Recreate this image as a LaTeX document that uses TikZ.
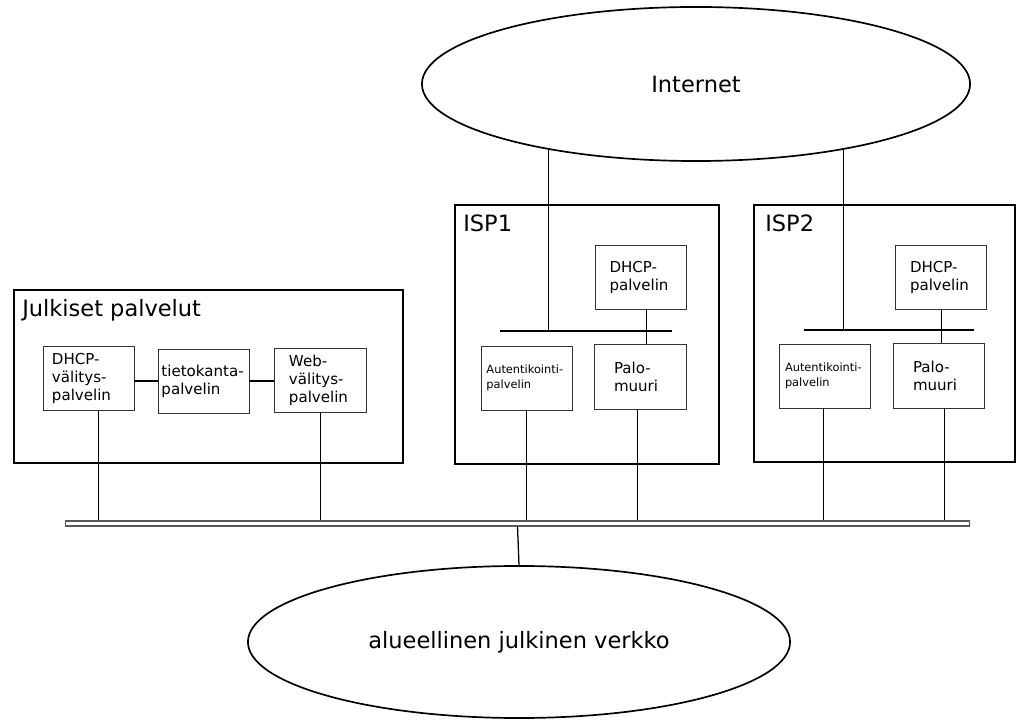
\documentclass[tikz,border=0pt]{standalone}
\usepackage{fontspec}
\setmainfont{DejaVu Sans}
\usetikzlibrary{shapes.geometric}

\begin{document}
\begin{tikzpicture}[x=0.025cm, y=-0.025cm,
		group/.style={draw, line width=2pt},
		title/.style={anchor=north west, inner sep=0pt, font=\fontsize{16pt}{19pt}\selectfont},
		srv/.style={draw=black!80, line width=0.6pt, align=left, minimum width=2.275cm, minimum height=1.6cm, inner sep=0pt, font=\fontsize{10.7pt}{12.8pt}\selectfont},
		small/.style={font=\fontsize{8.1pt}{10.4pt}\selectfont},
		cloud/.style={draw, ellipse, line width=1.2pt, inner sep=0pt, font=\fontsize{16pt}{19pt}\selectfont},
		link/.style={line width=0.6pt},
		bar/.style={line width=1.5pt}]
		\useasboundingbox (0,0) rectangle (1018,720);

		\draw (696,84) node[cloud, minimum width=13.7cm, minimum height=3.85cm] (internet) {Internet};
		\draw (519,642) node[cloud, minimum width=13.55cm, minimum height=3.8cm] (verkko) {alueellinen julkinen verkko};

		\draw (208.5,376.5) node[group, minimum width=9.725cm, minimum height=4.325cm] (julk) {};
		\draw (587,334.5) node[group, minimum width=6.6cm, minimum height=6.475cm] (isp1) {};
		\draw (884.5,333.5) node[group, minimum width=6.525cm, minimum height=6.425cm] (isp2) {};

		\draw (22,299) node[title] (jtitle) {Julkiset palvelut};
		\draw (463,215) node[title] (isp1title) {ISP1};
		\draw (765,215) node[title] (isp2title) {ISP2};

		\draw (88.5,378.5) node[srv, text width=1.825cm] (dhcpv) {DHCP-\\välitys-\\palvelin};
		\draw (203.5,381) node[srv, text width=2.1cm] (tieto) {tietokanta-\\palvelin};
		\draw (320,380) node[srv, minimum width=2.3cm, text width=1.55cm] (webv) {Web-\\välitys-\\palvelin};

		\draw (640.5,277) node[srv, text width=1.55cm] (dhcp1) {DHCP-\\palvelin};
		\draw (640,376.5) node[srv, minimum width=2.3cm, minimum height=1.625cm, text width=1.3cm] (palo1) {Palo-\\muuri};
		\draw (526.5,378) node[srv, small, text width=2cm] (auth1) {Autentikointi-\\palvelin};

		\draw (941,277) node[srv, text width=1.55cm] (dhcp2) {DHCP-\\palvelin};
		\draw (939,375.5) node[srv, minimum height=1.625cm, text width=1.3cm] (palo2) {Palo-\\muuri};
		\draw (825,376) node[srv, small, text width=2cm] (auth2) {Autentikointi-\\palvelin};

		\draw (517.5,523.5) node[draw=black!65, fill=white, line width=0.8pt, minimum width=22.575cm, minimum height=0.125cm, inner sep=0pt] (bus) {};

		\coordinate (bar1w) at (500,331);
		\coordinate (bar1e) at (672,331);
		\coordinate (bar2w) at (804,330);
		\coordinate (bar2e) at (974,330);
		\draw[bar] (bar1w) -- (bar1e);
		\draw[bar] (bar2w) -- (bar2e);

		\draw[line width=1pt] (internet.204) -- (internet.204 |- bar1w);
		\draw[line width=1pt] (internet.336.7) -- (internet.336.7 |- bar2w);

		\draw[link] ([xshift=0.155cm]dhcp1.south) -- ([xshift=0.155cm]dhcp1.south |- palo1.north);
		\draw[link] (dhcp2.south) -- (dhcp2.south |- palo2.north);

		\draw[line width=1pt] (dhcpv.east |- tieto.west) -- (tieto.west);
		\draw[line width=1pt] (tieto.east) -- (tieto.east -| webv.west);

		\draw[link] ([xshift=0.26cm]dhcpv.south) -- ([xshift=0.26cm]dhcpv.south |- bus.north);
		\draw[link] (webv.south) -- (webv.south |- bus.north);
		\draw[link] (auth1.south) -- (auth1.south |- bus.north);
		\draw[link] ([xshift=-0.075cm]palo1.south) -- ([xshift=-0.075cm]palo1.south |- bus.north);
		\draw[link] ([xshift=-0.05cm]auth2.south) -- ([xshift=-0.05cm]auth2.south |- bus.north);
		\draw[link] ([xshift=0.125cm]palo2.south) -- ([xshift=0.125cm]palo2.south |- bus.north);
		\draw[line width=0.9pt] (bus.south) -- (verkko.north);
	\end{tikzpicture}
\end{document}
